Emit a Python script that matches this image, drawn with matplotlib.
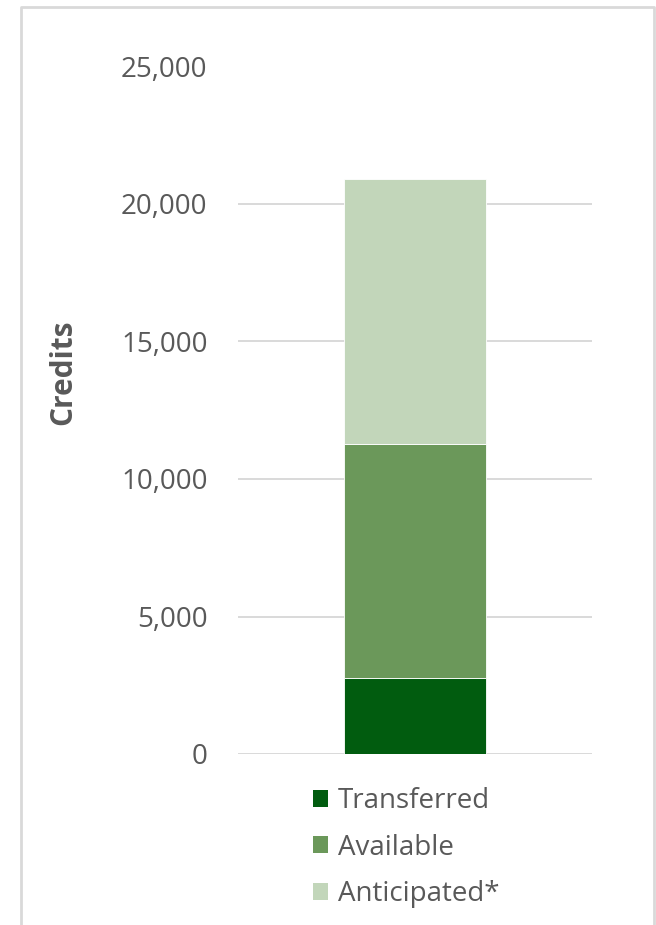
import matplotlib.pyplot as plt
from matplotlib.patches import Patch
from matplotlib.lines import Line2D
from matplotlib.ticker import FuncFormatter

plt.rcParams['font.family'] = ['Open Sans', 'DejaVu Sans']

# data
categories = [""]
series_names = ["Transferred", "Available", "Anticipated*"]
transferred = [2750]
available = [8530]
anticipated = [9620]
colors = ["#015c0f", "#6b985a", "#c2d6ba"]
text_color = "#595959"
grid_color = "#d9d9d9"

fig = plt.figure(figsize=(6.56, 9.25), dpi=100)
ax = fig.add_axes([238 / 656, 1 - 754 / 925, 354 / 656, (754 - 66.5) / 925])

bottom = [0] * len(categories)
for name, vals, c in zip(series_names, [transferred, available, anticipated], colors):
    ax.bar(categories, vals, bottom=bottom, width=0.4, color=c,
           edgecolor="white", linewidth=0.6, label=name, zorder=3)
    bottom = [b + v for b, v in zip(bottom, vals)]

ax.set_xlim(-0.5, 0.5)
ax.set_ylim(0, 25000)
ax.set_yticks(range(0, 25001, 5000))
ax.yaxis.set_major_formatter(FuncFormatter(lambda v, p: f"{int(v):,}"))
ax.tick_params(axis="y", length=0, pad=22, labelsize=20, labelcolor=text_color)
ax.tick_params(axis="x", length=0, labelbottom=False)
ax.grid(axis="y", color=grid_color, linewidth=1.4, zorder=0)
for s in ax.spines.values():
    s.set_visible(False)
ax.set_axisbelow(True)

fig.text(63 / 656, 1 - 372 / 925, "Credits", rotation=90, ha="center", va="center",
         fontsize=21.5, fontweight="bold", color=text_color)

handles = [Patch(facecolor=c, edgecolor="none") for c in colors]
fig.legend(handles, series_names, loc="upper left",
           bbox_to_anchor=(313 / 656, 1 - 787 / 925), frameon=False,
           fontsize=20, labelcolor=text_color, handlelength=0.55, handleheight=0.55,
           handletextpad=0.35, labelspacing=0.67, borderpad=0, borderaxespad=0)

# light frame round the chart (left, top, right)
fig.add_artist(Line2D([21 / 656, 21 / 656, 654 / 656, 654 / 656],
                      [0, 1 - 7 / 925, 1 - 7 / 925, 0],
                      transform=fig.transFigure, color=grid_color, linewidth=2))

fig.savefig("out.png", dpi=100)
